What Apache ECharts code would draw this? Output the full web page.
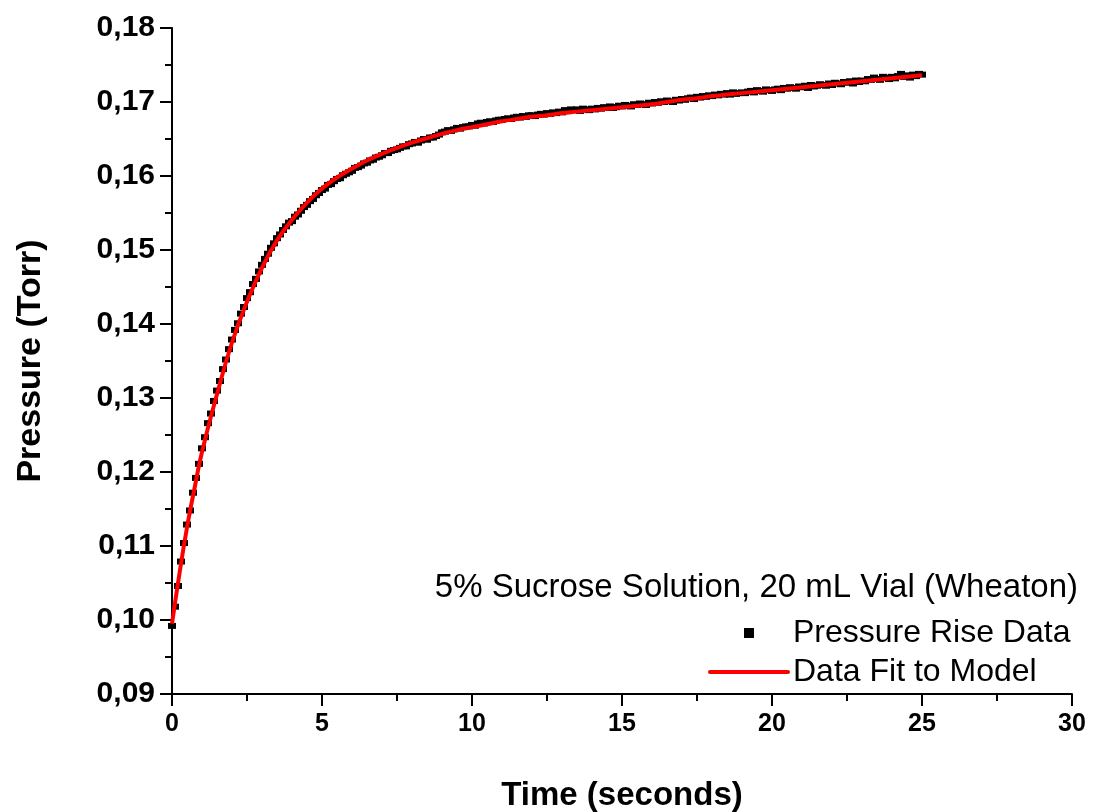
<!DOCTYPE html>
<html>
<head>
<meta charset="utf-8">
<title>Pressure Rise</title>
<script src="https://cdn.jsdelivr.net/npm/echarts@6/dist/echarts.min.js"></script>
<style>
  html, body { margin: 0; padding: 0; background: #fff; }
  #chart { width: 1096px; height: 812px; }
</style>
</head>
<body>
<div id="chart"></div>
<script>
// measured pressure, one sample every 0.1 s from 0 to 25 s
const sampleStep = 0.1;
const pressureData = [
  0.0992, 0.1018, 0.1046, 0.1079, 0.1104, 0.1129, 0.1148, 0.1172, 0.1192, 0.1211,
  0.1232, 0.1247, 0.1266, 0.1279, 0.1296, 0.1310, 0.1323, 0.1339, 0.1352, 0.1366,
  0.1379, 0.1392, 0.1401, 0.1414, 0.1423, 0.1435, 0.1443, 0.1454, 0.1461, 0.1471,
  0.1480, 0.1488, 0.1495, 0.1503, 0.1509, 0.1516, 0.1521, 0.1527, 0.1532, 0.1537,
  0.1539, 0.1545, 0.1548, 0.1553, 0.1558, 0.1561, 0.1566, 0.1569, 0.1574, 0.1577,
  0.1581, 0.1583, 0.1588, 0.1589, 0.1593, 0.1596, 0.1597, 0.1601, 0.1603, 0.1605,
  0.1607, 0.1611, 0.1612, 0.1614, 0.1617, 0.1618, 0.1621, 0.1622, 0.1625, 0.1626,
  0.1628, 0.1631, 0.1631, 0.1634, 0.1635, 0.1636, 0.1638, 0.1640, 0.1640, 0.1643,
  0.1644, 0.1646, 0.1645, 0.1648, 0.1650, 0.1649, 0.1652, 0.1652, 0.1654, 0.1656,
  0.1659, 0.1660, 0.1662, 0.1661, 0.1663, 0.1665, 0.1664, 0.1666, 0.1667, 0.1667,
  0.1669, 0.1668, 0.1671, 0.1672, 0.1671, 0.1673, 0.1674, 0.1673, 0.1675, 0.1676,
  0.1676, 0.1677, 0.1678, 0.1677, 0.1679, 0.1680, 0.1679, 0.1681, 0.1680, 0.1682,
  0.1682, 0.1681, 0.1683, 0.1684, 0.1683, 0.1685, 0.1684, 0.1686, 0.1685, 0.1687,
  0.1686, 0.1689, 0.1688, 0.1690, 0.1689, 0.1690, 0.1688, 0.1691, 0.1690, 0.1689,
  0.1691, 0.1690, 0.1692, 0.1691, 0.1693, 0.1692, 0.1694, 0.1692, 0.1693, 0.1695,
  0.1694, 0.1696, 0.1695, 0.1694, 0.1697, 0.1696, 0.1698, 0.1697, 0.1696, 0.1699,
  0.1698, 0.1700, 0.1699, 0.1701, 0.1700, 0.1702, 0.1701, 0.1700, 0.1703, 0.1702,
  0.1704, 0.1703, 0.1705, 0.1706, 0.1704, 0.1707, 0.1706, 0.1708, 0.1707, 0.1709,
  0.1708, 0.1710, 0.1709, 0.1711, 0.1710, 0.1712, 0.1710, 0.1713, 0.1711, 0.1712,
  0.1713, 0.1712, 0.1714, 0.1715, 0.1713, 0.1716, 0.1715, 0.1714, 0.1717, 0.1716,
  0.1715, 0.1717, 0.1718, 0.1716, 0.1719, 0.1718, 0.1720, 0.1719, 0.1718, 0.1721,
  0.1720, 0.1722, 0.1719, 0.1723, 0.1721, 0.1722, 0.1724, 0.1723, 0.1722, 0.1725,
  0.1723, 0.1726, 0.1725, 0.1724, 0.1727, 0.1726, 0.1728, 0.1725, 0.1729, 0.1727,
  0.1729, 0.1728, 0.1731, 0.1730, 0.1733, 0.1731, 0.1730, 0.1734, 0.1733, 0.1731,
  0.1734, 0.1732, 0.1735, 0.1738, 0.1734, 0.1736, 0.1733, 0.1737, 0.1735, 0.1738,
  0.1737
];

// model fit
const fitTime = [
  0, 0.25, 0.5, 0.75, 1, 1.5, 2, 2.5, 3, 3.5, 4, 4.5, 5, 5.5, 6, 6.5, 7, 7.5, 8, 8.5,
  9, 9.5, 10, 10.5, 11, 11.5, 12, 12.5, 13, 13.5, 14, 14.5, 15, 15.5, 16, 16.5,
  17, 17.5, 18, 18.5, 19, 19.5, 20, 20.5, 21, 21.5, 22, 22.5, 23, 23.5, 24, 24.5, 25
];
const fitPressure = [
  0.0995, 0.1063, 0.1125, 0.1178, 0.1227, 0.1305, 0.1375, 0.1430, 0.1476, 0.1513,
  0.1541, 0.1564, 0.1583, 0.1598, 0.1610, 0.1621, 0.1630, 0.1638, 0.1645, 0.1651,
  0.1657, 0.1662, 0.1666, 0.1670, 0.1674, 0.1677, 0.1680, 0.1682, 0.1685, 0.1687,
  0.1689, 0.1691, 0.1693, 0.1695, 0.1697, 0.1700, 0.1703, 0.1705, 0.1708, 0.1710,
  0.1712, 0.1714, 0.1716, 0.1718, 0.1720, 0.1722, 0.1724, 0.1726, 0.1728, 0.1730,
  0.1732, 0.1734, 0.1736
];

const xTicks = [0, 5, 10, 15, 20, 25, 30];
const yTicks = [0.09, 0.10, 0.11, 0.12, 0.13, 0.14, 0.15, 0.16, 0.17, 0.18];

const FONT = '"Liberation Sans", Arial, sans-serif';

let chart = echarts.init(document.getElementById('chart'));

let dataPoints = pressureData.map(function (p, i) {
  return [+(i * sampleStep).toFixed(1), p];
});
let fitPoints = fitTime.map(function (t, i) {
  return [t, fitPressure[i]];
});

let option = {
  backgroundColor: '#ffffff',
  animation: false,
  title: {
    text: '5% Sucrose Solution, 20 mL Vial (Wheaton)',
    right: 13,
    top: 566,
    textStyle: {
      fontFamily: FONT,
      fontSize: 33,
      fontWeight: 'normal',
      color: '#000'
    }
  },
  legend: {
    orient: 'vertical',
    left: 703,
    top: 612,
    itemWidth: 78,
    itemHeight: 10,
    itemGap: 7,
    symbolKeepAspect: true,
    textStyle: {
      fontFamily: FONT,
      fontSize: 32,
      color: '#000'
    },
    data: [
      {
        name: 'Pressure Rise Data',
        icon: 'path://M0,0H10V10H0Z',
        itemStyle: { color: '#000', opacity: 1 }
      },
      {
        name: 'Data Fit to Model',
        icon: 'inherit',
        itemStyle: { color: '#ff0000', opacity: 0 },
        lineStyle: { color: '#ff0000', width: 4, cap: 'round' }
      }
    ]
  },
  grid: {
    left: 172,
    right: 24,
    top: 28,
    bottom: 118,
    outerBoundsMode: 'none'
  },
  xAxis: {
    type: 'value',
    min: xTicks[0],
    max: xTicks[xTicks.length - 1],
    interval: 5,
    name: 'Time (seconds)',
    nameLocation: 'middle',
    nameGap: 85,
    nameTextStyle: {
      fontFamily: FONT,
      fontSize: 33,
      fontWeight: 'bold',
      color: '#000'
    },
    axisLine: { lineStyle: { color: '#000', width: 2 } },
    axisTick: { length: 12, lineStyle: { color: '#000', width: 2 } },
    minorTick: { show: true, splitNumber: 2, length: 7, lineStyle: { color: '#000', width: 2 } },
    splitLine: { show: false },
    axisLabel: {
      margin: 18,
      fontFamily: FONT,
      fontSize: 25,
      fontWeight: 'bold',
      color: '#000'
    }
  },
  yAxis: {
    type: 'value',
    min: yTicks[0],
    max: yTicks[yTicks.length - 1],
    interval: 0.01,
    name: 'Pressure (Torr)',
    nameLocation: 'middle',
    nameRotate: 90,
    nameGap: 124,
    nameTextStyle: {
      fontFamily: FONT,
      fontSize: 34,
      fontWeight: 'bold',
      color: '#000'
    },
    axisLine: { show: true, lineStyle: { color: '#000', width: 2 } },
    axisTick: { show: true, length: 12, lineStyle: { color: '#000', width: 2 } },
    minorTick: { show: true, splitNumber: 2, length: 7, lineStyle: { color: '#000', width: 2 } },
    splitLine: { show: false },
    axisLabel: {
      margin: 17,
      fontFamily: FONT,
      fontSize: 30,
      fontWeight: 'bold',
      color: '#000',
      formatter: function (v) {
        return v.toFixed(2).replace('.', ',');
      }
    }
  },
  series: [
    {
      name: 'Pressure Rise Data',
      type: 'scatter',
      symbol: 'rect',
      symbolSize: [8, 6],
      itemStyle: { color: '#000', opacity: 1 },
      data: dataPoints,
      z: 2
    },
    {
      name: 'Data Fit to Model',
      type: 'line',
      smooth: true,
      symbol: 'none',
      showSymbol: false,
      lineStyle: { color: '#ff0000', width: 4 },
      itemStyle: { color: '#ff0000' },
      data: fitPoints,
      z: 3
    }
  ]
};

option && chart.setOption(option);
</script>
</body>
</html>
